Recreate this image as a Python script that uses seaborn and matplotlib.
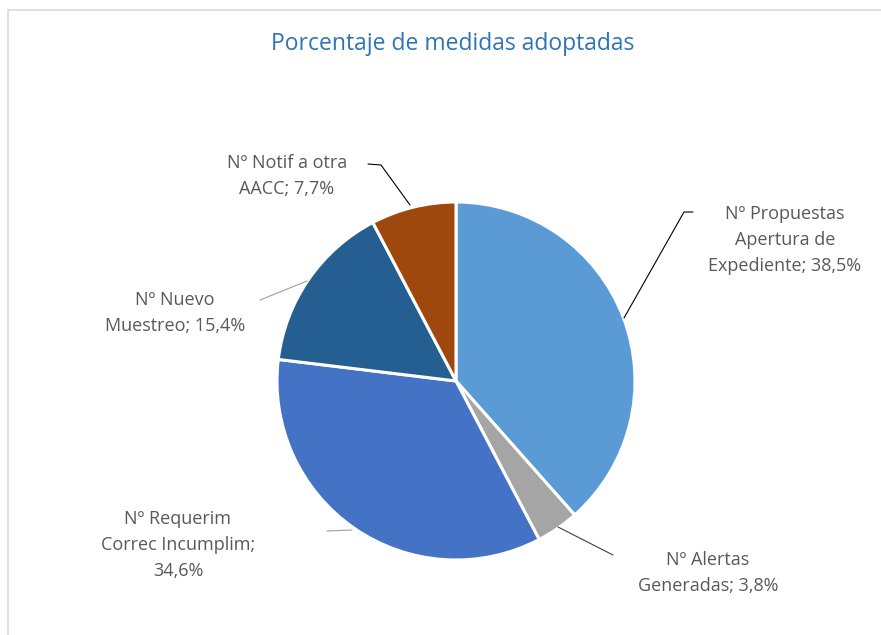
import matplotlib
matplotlib.use("Agg")
import matplotlib.pyplot as plt
import seaborn as sns

# data: counts behind the percentages (26 measures in total)
categories = [
    "Nº Propuestas Apertura de Expediente",
    "Nº Alertas Generadas",
    "Nº Requerim Correc Incumplim",
    "Nº Nuevo Muestreo",
    "Nº Notif a otra AACC",
]
counts = [10, 1, 9, 4, 2]
label_texts = [
    "Nº Propuestas\nApertura de\nExpediente; 38,5%",
    "Nº Alertas\nGeneradas; 3,8%",
    "Nº Requerim\nCorrec Incumplim;\n34,6%",
    "Nº Nuevo\nMuestreo; 15,4%",
    "Nº Notif a otra\nAACC; 7,7%",
]
colors = ["#5B9BD5", "#A5A5A5", "#4472C4", "#255E91", "#9E480E"]

sns.set_theme(style="white")
plt.rcParams["font.family"] = ["Open Sans", "DejaVu Sans"]

fig = plt.figure(figsize=(8.81, 6.35), dpi=100)
ax = fig.add_axes([0, 0, 1, 1])

# chart frame (cut off at right/bottom)
ax.plot([8, 881], [10, 10], color="#D9D9D9", lw=1.2)
ax.plot([8, 8], [10, 635], color="#D9D9D9", lw=1.2)

# y axis is inverted, so counterclock=True draws clockwise on screen
ax.pie(counts, colors=colors, center=(456, 381), radius=179,
       startangle=-90, counterclock=True,
       wedgeprops=dict(edgecolor="white", linewidth=2.2))
ax.set_xlim(0, 881)
ax.set_ylim(635, 0)
ax.set_aspect("equal")
ax.axis("off")

ax.text(453, 44, "Porcentaje de medidas adoptadas", ha="center", va="center",
        fontsize=16.5, color="#2E75B6")

label_pos = [(785, 240), (708, 573), (178, 545), (175, 313), (287, 176)]
for (x, y), txt in zip(label_pos, label_texts):
    ax.text(x, y, txt, ha="center", va="center", fontsize=13,
            color="#595959", linespacing=1.6)

# leader lines
ax.plot([624, 684, 693], [318, 212, 212], color="black", lw=0.8)
ax.plot([558, 613], [527, 555], color="#404040", lw=0.8)
ax.plot([327, 352], [531, 530], color="#A0A0A0", lw=0.8)
ax.plot([260, 307], [300, 281], color="#A0A0A0", lw=0.8)
ax.plot([368, 381, 410], [164, 165, 205], color="black", lw=0.8)

fig.savefig("out.png", dpi=100, facecolor="white")
